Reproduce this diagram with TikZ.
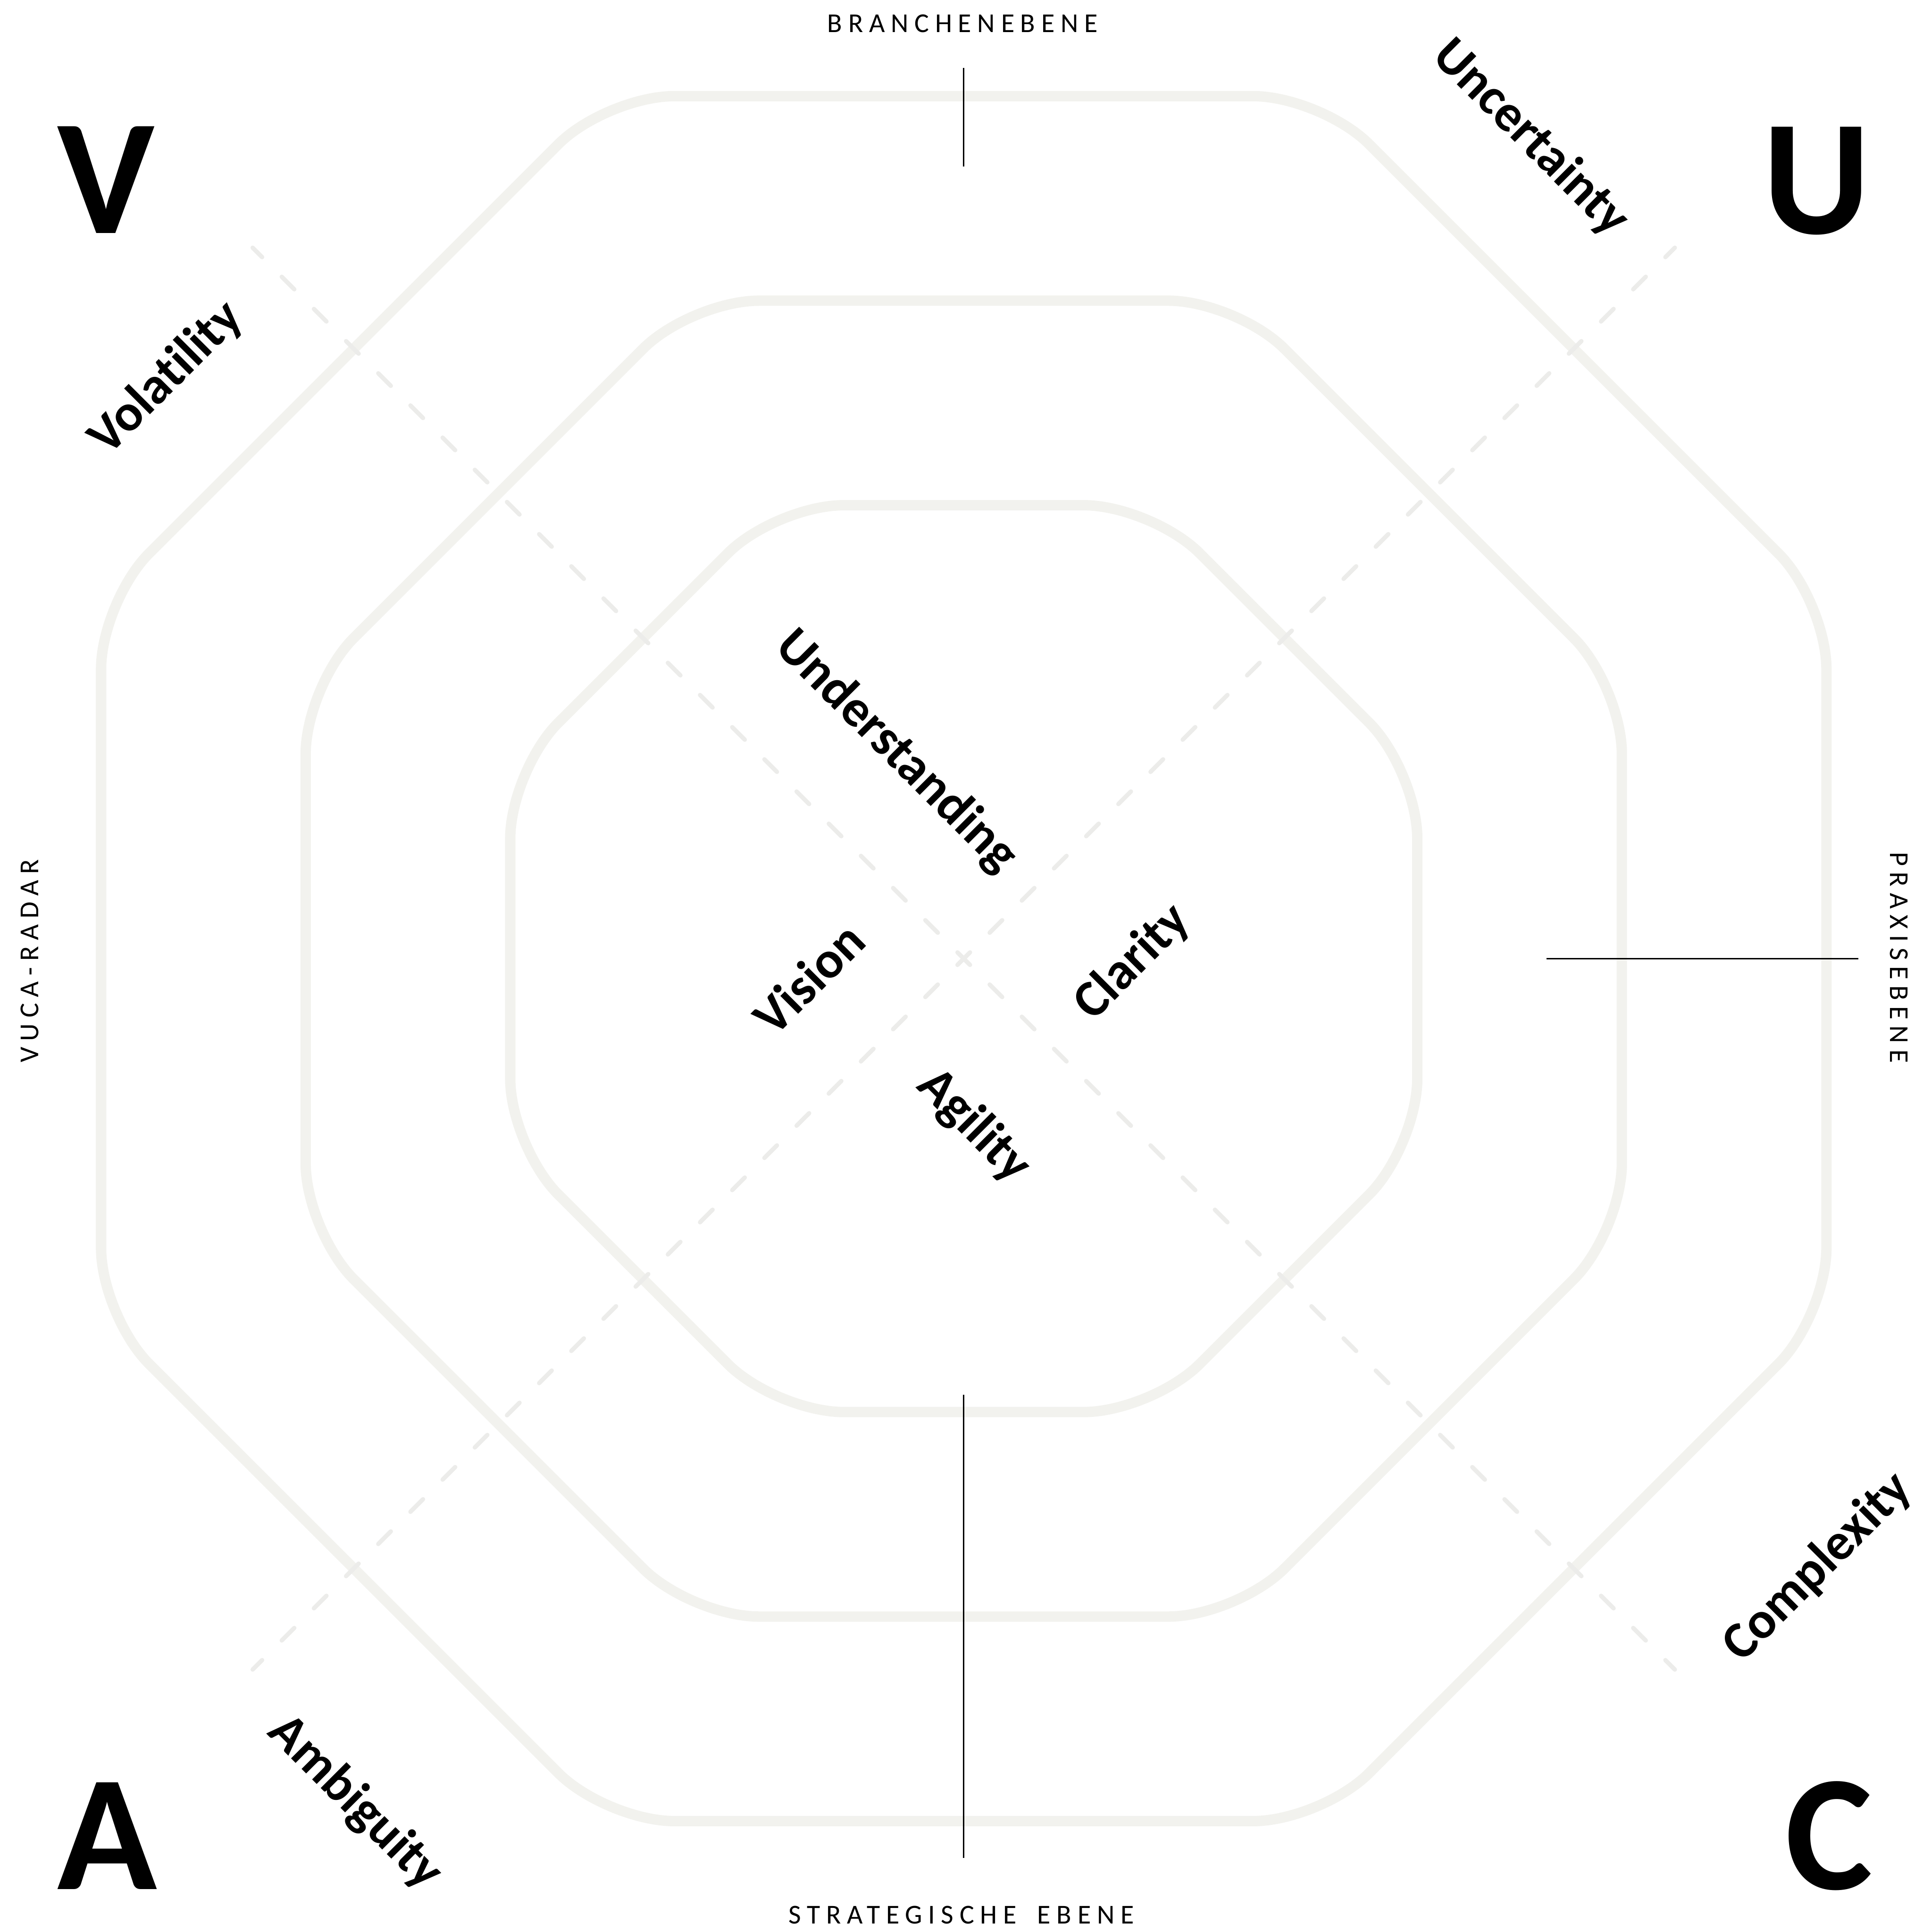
\documentclass[tikz,border=0pt]{standalone}
\usepackage{fontspec}
\setmainfont{Carlito}[Ligatures=NoCommon]
\usepackage{tikz}
\usetikzlibrary{calc,positioning}

\definecolor{ringgray}{HTML}{F2F2EE}
\definecolor{dashgray}{HTML}{ECECEA}

\begin{document}
\begin{tikzpicture}[x=0.01cm, y=-0.01cm]
    \def\A{700}   % half width of outer ring
    \def\D{166}   % ring spacing
    \def\H{577}   % half span of the diagonals

    % Style for nodes
    \tikzset{
        bigletter/.style={font=\fontsize{38}{38}\selectfont\bfseries, inner sep=0pt},
        vucaword/.style={font=\fontsize{12}{13}\selectfont\bfseries, inner sep=0pt},
        edgecaption/.style={font=\fontsize{6.3}{7}\selectfont\addfontfeature{LetterSpace=22}, inner sep=0pt},
        ring/.style={draw=ringgray, line width=2.4pt, rounded corners=0.55cm},
        diagline/.style={draw=dashgray, line width=1pt, line cap=round, dash pattern=on 4.1pt off 6.4pt, dash phase=2.05pt},
        marker/.style={draw=black, line width=0.3pt}
    }

    \useasboundingbox (0,0) rectangle (1560,1568);
    \coordinate (O) at (782,778);

    % --- RINGS ---
    \foreach \k in {0,1,2} {
        \pgfmathsetmacro{\a}{\A - \k*\D}
        \pgfmathsetmacro{\R}{\a/cos(22.5)}
        \draw[ring, shift={(O)}] (0:\a) \foreach \j in {0,...,7} { -- (22.5+45*\j:\R) } -- cycle;
    }

    % --- DASHED DIAGONALS ---
    \coordinate (NW) at ($(O)+(-\H,-\H)$);
    \coordinate (NE) at ($(O)+(\H,-\H)$);
    \coordinate (SW) at ($(O)+(-\H,\H)$);
    \coordinate (SE) at ($(O)+(\H,\H)$);
    \foreach \c in {NW,NE,SW,SE}
        \draw[diagline] (O) -- (\c);

    % --- MARKER LINES ---
    \coordinate (t1) at (782,55);   \coordinate (t2) at (782,135);
    \coordinate (r1) at (1255,778); \coordinate (r2) at (1508,778);
    \coordinate (b1) at (782,1132); \coordinate (b2) at (782,1508);
    \draw[marker] (t1) -- (t2);
    \draw[marker] (r1) -- (r2);
    \draw[marker] (b1) -- (b2);

    % --- CAPTIONS ---
    \node[edgecaption] (branche) at (781,19) {BRANCHENEBENE};
    \node[edgecaption] (strategie) at (780,1554) {STRATEGISCHE\hspace{2pt} EBENE};
    \node[edgecaption, rotate=90] (radar) at (24,780) {VUCA-RADAR};
    \node[edgecaption, rotate=-90] (praxis) at (1541,777) {PRAXISEBENE};

    % --- VUCA LETTERS ---
    \foreach \l/\x/\y in {V/86/146, U/1474/147, A/87/1490, C/1484/1490}
        \node[bigletter] (\l) at (\x,\y) {\l};

    % --- WORDS ---
    % outer: the four threats, inner: the four answers
    \foreach \w/\x/\y/\r in {Volatility/135/307/45, Uncertainty/1242/112/-45,
                             Ambiguity/288/1463/-45, Complexity/1475/1272/45,
                             Understanding/727/610/-45, Vision/656/794/45,
                             Clarity/919/781/45, Agility/790/914/-45}
        \node[vucaword, rotate=\r] (\w) at (\x,\y) {\w};

\end{tikzpicture}
\end{document}
